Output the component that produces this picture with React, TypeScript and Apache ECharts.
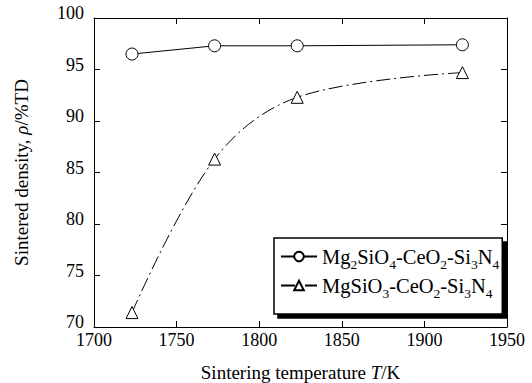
import React, { useEffect, useRef } from "react";
import * as echarts from "echarts";

const temps = [1723, 1773, 1823, 1923];
const mg2Density = [96.5, 97.3, 97.3, 97.4];
const mgDensity = [71.4, 86.3, 92.3, 94.7];
const seriesNames = ["Mg2SiO4-CeO2-Si3N4", "MgSiO3-CeO2-Si3N4"];
const legendRich = [
  "Mg{sub|2}SiO{sub|4}-CeO{sub|2}-Si{sub|3}N{sub|4}",
  "MgSiO{sub|3}-CeO{sub|2}-Si{sub|3}N{sub|4}",
];

const FONT = "'Liberation Serif', 'Times New Roman', serif";

export default function App() {
  const ref = useRef<HTMLDivElement>(null);
  useEffect(() => {
    document.body.style.margin = "0";
    if (!ref.current) return;
    const chart = echarts.init(ref.current, undefined, { renderer: "svg" });
    const axisCommon = {
      axisLine: { show: true, lineStyle: { color: "#000", width: 1 } },
      axisTick: { show: true, inside: true, length: 6, lineStyle: { color: "#000" } },
      splitLine: { show: false },
    };
    chart.setOption({
      animation: false,
      backgroundColor: "#fff",
      textStyle: { fontFamily: FONT },
      grid: { left: 94, right: 25, top: 18, bottom: 56, containLabel: false, outerBoundsMode: "none" },
      legend: {
        orient: "vertical",
        left: 274,
        top: 238,
        padding: [8, 3, 14, 6],
        itemGap: 4,
        itemWidth: 36,
        itemHeight: 12,
        backgroundColor: "#fff",
        borderColor: "#000",
        borderWidth: 1.5,
        borderRadius: 0,
        shadowColor: "#000",
        shadowBlur: 0,
        shadowOffsetX: 4,
        shadowOffsetY: 4,
        data: seriesNames,
        formatter: (name: string) => legendRich[seriesNames.indexOf(name)],
        textStyle: {
          fontFamily: FONT,
          fontSize: 20.5,
          color: "#000",
          rich: {
            sub: { fontFamily: FONT, fontSize: 13.5, color: "#000", padding: [15, 0, 0, 0] },
          },
        },
      },
      xAxis: [
        {
          type: "value",
          min: 1700,
          max: 1950,
          interval: 50,
          ...axisCommon,
          axisLabel: {
            color: "#000",
            fontSize: 18,
            lineHeight: 13,
            fontFamily: FONT,
            margin: 6,
            formatter: (v: number) => String(v),
          },
          name: "Sintering temperature {i|T}/K",
          nameLocation: "middle",
          nameGap: 36,
          nameTextStyle: {
            color: "#000",
            fontSize: 19,
            fontFamily: FONT,
            rich: { i: { fontStyle: "italic", fontSize: 19, fontFamily: FONT, color: "#000" } },
          },
        },
        {
          type: "value",
          position: "top",
          min: 1700,
          max: 1950,
          interval: 50,
          ...axisCommon,
          axisLabel: { show: false },
        },
      ],
      yAxis: [
        {
          type: "value",
          min: 70,
          max: 100,
          interval: 5,
          ...axisCommon,
          axisLabel: {
            color: "#000",
            fontSize: 18,
            lineHeight: 10,
            verticalAlign: "bottom",
            fontFamily: FONT,
            margin: 10,
          },
          name: "Sintered density, {i|ρ}/%TD",
          nameLocation: "middle",
          nameGap: 63,
          nameTextStyle: {
            color: "#000",
            fontSize: 19,
            fontFamily: FONT,
            rich: { i: { fontStyle: "italic", fontSize: 19, fontFamily: FONT, color: "#000" } },
          },
        },
        {
          type: "value",
          position: "right",
          min: 70,
          max: 100,
          interval: 5,
          ...axisCommon,
          axisLabel: { show: false },
        },
      ],
      series: [
        {
          name: seriesNames[0],
          type: "line",
          data: temps.map((t, i) => [t, mg2Density[i]]),
          symbol: "circle",
          symbolSize: 12,
          smooth: false,
          itemStyle: { color: "#fff", borderColor: "#000", borderWidth: 1 },
          lineStyle: { color: "#000", width: 1 },
        },
        {
          name: seriesNames[1],
          type: "line",
          data: temps.map((t, i) => [t, mgDensity[i]]),
          symbol: "triangle",
          symbolSize: 12,
          smooth: 0.35,
          itemStyle: { color: "#fff", borderColor: "#000", borderWidth: 1 },
          lineStyle: { color: "#000", width: 1, type: [14, 4, 2, 4] },
        },
      ],
    });
    return () => chart.dispose();
  }, []);
  return <div ref={ref} style={{ width: 532, height: 383 }} />;
}
